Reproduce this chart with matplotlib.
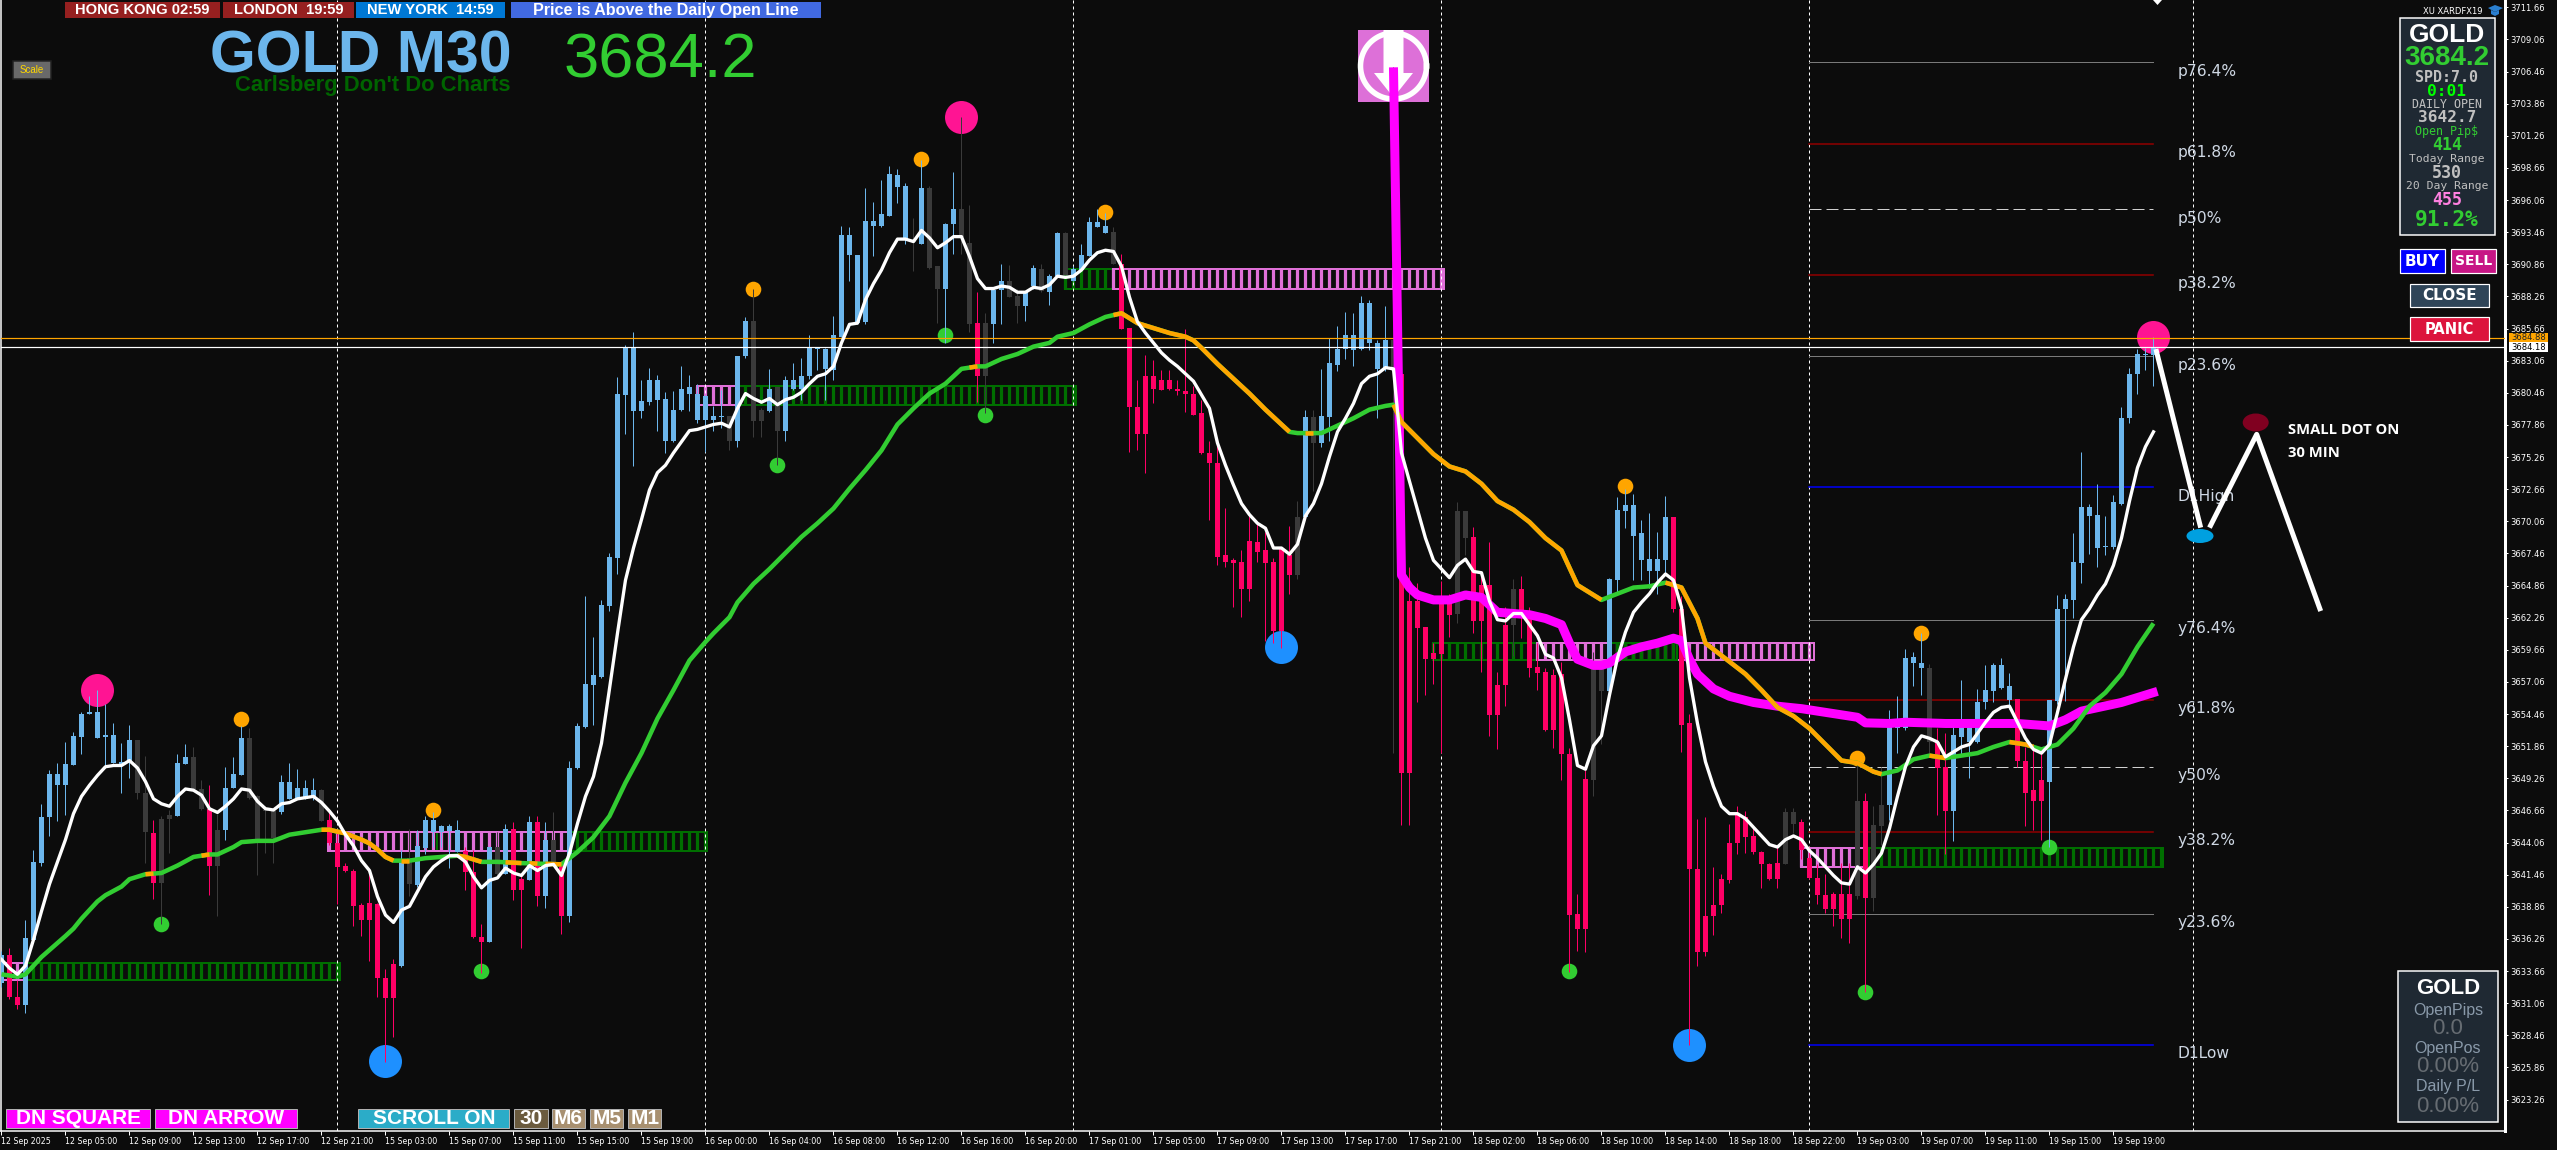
import matplotlib
matplotlib.use('Agg')
import matplotlib.pyplot as plt
from matplotlib.patches import Rectangle, Polygon, Ellipse
import numpy as np

# Candles: b = blue, p = pink, g = grey
bar_kind = ("bppbbbbbbb" "bbbbbbbggp" "ggbbggpgbb" "bggggbbbbb" "gppppppppp"
            "bgbbbbbbpp" "pbgbppbpbg" "pbbbbbbbbb" "bbbbbbbbbb" "bgbbggbgbb"
            "bbbbbbbbbb" "bbbbgbggbb" "ggpgbbggbb" "gbbgbbbbbg" "pppppppppp"
            "pppppppppp" "ppgbgbbbbb" "bbbbgppppp" "ppggpppppg" "pppppppppg"
            "gbbbbbbbbp" "pppppppppp" "pppggppppp" "ppgpggbbbb" "bgppbbbbbb"
            "bbppppbbbb" "bbbbbbbbbb")

bar_top = [
    3635.0,3635.0,3631.6,3636.3,3642.5,3646.1,3649.6,3649.6,3650.4,3652.7,
    3654.5,3654.6,3654.6,3652.8,3652.8,3650.6,3652.4,3652.4,3648.1,3644.8,
    3646.0,3646.3,3650.5,3651.0,3651.0,3648.4,3646.8,3645.1,3648.5,3649.6,
    3652.5,3652.5,3647.8,3646.7,3646.6,3649.0,3649.0,3648.5,3648.5,3648.3,
    3648.3,3645.9,3644.0,3642.2,3641.8,3639.0,3639.2,3639.1,3633.1,3634.2,
    3642.5,3642.8,3643.8,3645.9,3645.9,3645.4,3645.4,3645.1,3643.4,3641.7,
    3636.4,3643.7,3643.7,3645.2,3645.2,3641.1,3645.7,3645.7,3644.3,3644.3,
    3642.3,3650.1,3653.5,3656.9,3657.6,3663.3,3667.2,3680.4,3684.1,3684.1,
    3679.8,3681.5,3681.5,3680.0,3679.1,3680.8,3680.9,3680.4,3680.2,3678.6,
    3678.6,3678.6,3683.4,3686.3,3686.3,3679.1,3680.8,3680.9,3681.5,3681.5,
    3681.8,3684.1,3684.1,3684.0,3685.1,3693.2,3693.2,3691.6,3694.4,3694.4,
    3694.9,3698.2,3698.1,3697.2,3692.9,3697.0,3697.0,3690.7,3694.1,3695.3,
    3695.3,3692.6,3686.1,3686.1,3688.8,3689.5,3689.5,3688.3,3688.6,3690.6,
    3690.5,3689.9,3693.4,3693.4,3690.5,3691.6,3694.3,3694.3,3694.0,3693.5,
    3690.9,3685.7,3679.3,3681.8,3681.8,3681.5,3681.5,3680.8,3680.6,3680.4,
    3678.8,3675.6,3674.8,3667.3,3666.9,3666.8,3668.5,3668.4,3667.7,3666.8,
    3667.8,3667.3,3670.4,3678.5,3678.5,3678.6,3682.9,3684.0,3685.1,3685.1,
    3687.7,3687.7,3684.5,3684.7,3684.7,3682.0,3663.6,3663.6,3661.5,3659.4,
    3663.9,3663.8,3670.9,3670.9,3668.8,3664.9,3664.9,3656.8,3661.7,3664.6,
    3664.6,3662.4,3658.3,3657.9,3657.6,3657.7,3651.2,3638.3,3649.2,3658.7,
    3658.6,3665.4,3671.0,3671.4,3671.4,3669.1,3667.0,3667.0,3670.4,3670.4,
    3663.0,3653.7,3641.9,3638.1,3639.0,3641.1,3644.0,3646.3,3646.1,3644.6,
    3643.3,3642.3,3642.4,3646.5,3646.5,3645.7,3642.8,3641.2,3639.8,3639.9,
    3639.9,3639.9,3647.4,3647.4,3645.5,3647.1,3653.8,3653.8,3659.0,3659.1,
    3658.6,3658.2,3652.2,3650.2,3652.8,3653.8,3653.8,3655.4,3656.4,3658.4,
    3658.4,3656.7,3655.7,3650.7,3648.3,3649.1,3655.6,3663.0,3663.8,3666.8,
    3671.2,3671.2,3670.6,3668.1,3671.6,3678.4,3682.0,3683.6,3683.6,3684.2]

bar_bot = [
    3632.7,3631.6,3630.9,3630.9,3636.2,3642.4,3646.1,3648.7,3648.7,3650.3,
    3652.6,3654.5,3652.5,3652.6,3650.5,3650.3,3650.5,3648.1,3644.9,3640.8,
    3640.8,3646.0,3646.2,3650.4,3648.4,3646.8,3642.2,3642.2,3645.1,3648.5,
    3649.5,3647.7,3644.3,3646.6,3644.4,3646.5,3647.6,3647.6,3647.6,3647.7,
    3645.8,3644.0,3642.1,3641.8,3638.9,3637.8,3637.8,3633.1,3631.5,3631.5,
    3634.1,3640.7,3640.6,3643.6,3644.9,3644.9,3645.0,3643.3,3641.7,3636.4,
    3636.0,3636.0,3641.5,3641.5,3640.2,3640.2,3641.0,3639.7,3639.7,3642.5,
    3638.1,3638.1,3650.1,3653.4,3656.8,3657.5,3663.2,3667.1,3680.3,3679.0,
    3679.0,3679.7,3679.9,3676.6,3676.6,3679.1,3680.4,3678.3,3678.3,3678.3,
    3678.5,3676.6,3676.6,3683.4,3678.2,3678.2,3679.0,3677.4,3677.4,3680.8,
    3680.8,3681.8,3684.0,3682.4,3682.3,3685.0,3691.6,3686.1,3686.2,3694.0,
    3694.0,3694.8,3697.1,3692.9,3692.7,3692.5,3690.6,3688.9,3688.9,3694.1,
    3693.1,3686.0,3681.8,3681.8,3686.0,3688.8,3688.2,3687.5,3687.5,3689.1,
    3688.7,3688.6,3689.9,3690.0,3689.5,3690.4,3691.5,3693.9,3693.4,3690.9,
    3685.6,3679.3,3677.1,3677.1,3680.8,3680.7,3680.8,3680.6,3680.4,3678.7,
    3675.6,3674.8,3667.2,3666.8,3666.7,3664.6,3664.6,3667.6,3666.7,3661.2,
    3661.2,3665.7,3665.7,3670.4,3676.4,3676.4,3678.5,3682.7,3684.0,3683.9,
    3684.0,3684.5,3682.4,3682.4,3682.2,3649.7,3649.7,3661.4,3658.9,3658.9,
    3659.3,3662.5,3662.6,3668.7,3662.0,3662.0,3654.4,3654.4,3656.8,3661.7,
    3662.3,3658.2,3657.8,3653.2,3653.2,3651.2,3638.2,3637.1,3637.1,3649.1,
    3656.3,3656.3,3665.3,3670.9,3668.9,3666.9,3666.0,3666.0,3666.9,3663.0,
    3653.6,3641.9,3635.2,3635.2,3638.1,3639.0,3641.0,3644.0,3644.5,3643.3,
    3642.3,3641.1,3641.1,3642.3,3645.6,3643.5,3641.2,3639.8,3638.7,3638.7,
    3637.9,3637.9,3639.7,3639.6,3639.6,3645.4,3647.1,3653.3,3653.3,3658.6,
    3658.2,3652.2,3650.1,3646.6,3646.6,3652.6,3652.2,3652.2,3655.4,3656.3,
    3656.6,3655.6,3650.7,3648.1,3647.4,3647.4,3649.0,3655.5,3663.0,3663.7,
    3666.7,3670.5,3667.9,3668.0,3668.0,3671.5,3678.4,3682.0,3683.5,3683.5]

bar_high = [
    3635.3,3635.5,3632.9,3637.8,3643.5,3647.2,3649.9,3650.5,3652.2,3653.0,
    3654.6,3655.9,3656.4,3655.3,3653.7,3652.1,3653.6,3652.4,3651.1,3645.9,
    3646.2,3646.7,3651.2,3652.0,3651.8,3649.1,3648.7,3646.4,3650.2,3651.0,
    3653.5,3653.3,3647.9,3647.0,3646.7,3649.5,3650.5,3650.0,3649.1,3649.3,
    3648.4,3646.6,3644.8,3642.4,3641.9,3639.2,3641.6,3639.2,3633.8,3634.6,
    3643.5,3645.2,3645.1,3646.2,3646.5,3645.5,3645.6,3645.9,3643.7,3643.5,
    3637.5,3643.7,3644.9,3645.6,3645.7,3641.6,3646.2,3646.2,3645.7,3646.5,
    3642.6,3650.7,3653.7,3664.0,3660.7,3663.7,3667.5,3681.7,3684.3,3685.4,
    3681.5,3682.5,3681.9,3680.5,3680.6,3682.6,3681.9,3681.2,3680.3,3679.4,
    3680.7,3678.6,3683.4,3686.6,3688.9,3679.2,3682.4,3680.9,3681.8,3682.9,
    3683.3,3685.1,3684.2,3684.1,3686.7,3694.0,3693.9,3691.6,3697.0,3695.9,
    3697.7,3698.8,3698.6,3697.4,3694.6,3699.3,3697.2,3690.7,3694.2,3698.3,
    3702.8,3695.7,3688.6,3686.9,3689.0,3690.9,3690.8,3688.9,3688.6,3690.8,
    3690.9,3690.1,3693.5,3693.5,3690.7,3692.5,3694.7,3695.3,3695.0,3693.9,
    3691.7,3685.7,3681.5,3683.5,3683.1,3682.3,3682.3,3681.5,3685.6,3681.0,
    3679.9,3676.6,3676.4,3671.1,3667.1,3667.7,3670.7,3669.9,3669.2,3667.1,
    3667.9,3669.7,3671.7,3679.1,3679.1,3682.4,3684.9,3685.9,3687.0,3686.9,
    3688.3,3688.0,3684.7,3687.5,3706.8,3682.0,3666.4,3665.1,3661.5,3660.2,
    3665.2,3664.2,3671.6,3670.9,3669.6,3665.9,3668.4,3657.9,3663.1,3665.4,
    3665.6,3663.1,3660.2,3658.2,3658.1,3658.7,3651.7,3639.9,3649.9,3659.5,
    3658.7,3665.5,3672.0,3672.7,3672.3,3670.2,3670.7,3669.2,3672.1,3670.4,
    3664.0,3654.5,3646.0,3646.1,3642.1,3641.5,3645.6,3647.0,3646.6,3645.3,
    3643.4,3642.4,3643.8,3646.9,3646.9,3646.0,3643.7,3642.3,3641.5,3640.1,
    3642.4,3642.4,3650.7,3648.1,3647.0,3650.2,3654.8,3655.9,3659.7,3659.5,
    3661.0,3658.5,3653.3,3652.9,3653.7,3657.2,3654.0,3656.5,3658.4,3658.6,
    3659.0,3657.8,3655.7,3651.8,3652.0,3651.8,3655.6,3664.1,3664.2,3669.1,
    3675.7,3671.5,3673.1,3670.5,3672.2,3679.3,3682.5,3684.0,3684.1,3685.0]

bar_low = [
    3632.4,3631.4,3630.6,3630.3,3636.2,3642.2,3644.6,3645.8,3646.3,3650.3,
    3651.2,3654.5,3652.5,3650.3,3650.5,3648.1,3649.3,3647.6,3642.4,3639.5,
    3637.5,3643.2,3646.2,3650.4,3648.3,3646.7,3639.8,3638.1,3644.3,3648.5,
    3649.5,3647.6,3641.4,3643.2,3642.4,3646.4,3647.6,3647.6,3647.6,3647.5,
    3645.8,3643.9,3639.1,3641.7,3637.3,3636.5,3634.5,3631.6,3626.3,3628.3,
    3634.0,3639.7,3640.5,3643.1,3643.7,3643.7,3642.0,3643.3,3640.2,3636.3,
    3633.5,3636.0,3641.4,3641.5,3639.4,3635.5,3641.0,3638.9,3638.8,3642.4,
    3636.7,3637.6,3650.0,3653.3,3653.6,3657.4,3662.8,3665.8,3677.1,3674.5,
    3678.4,3679.5,3677.4,3675.6,3676.5,3679.0,3679.0,3678.0,3675.7,3677.4,
    3677.6,3675.8,3676.1,3683.3,3676.9,3676.9,3678.9,3674.6,3676.6,3680.7,
    3679.9,3681.6,3682.3,3679.9,3681.5,3685.0,3689.5,3686.0,3686.0,3691.5,
    3693.9,3694.8,3695.8,3692.5,3690.3,3692.5,3690.5,3686.1,3684.5,3691.7,
    3691.7,3685.4,3679.7,3678.8,3684.5,3686.0,3688.2,3686.1,3686.3,3688.9,
    3688.6,3687.6,3689.8,3690.0,3689.5,3690.3,3691.5,3693.9,3693.4,3690.9,
    3685.6,3675.7,3675.8,3674.0,3679.6,3680.7,3680.7,3680.3,3678.9,3678.7,
    3675.5,3670.2,3666.5,3666.4,3663.1,3662.3,3663.6,3666.8,3660.4,3660.2,
    3659.8,3664.2,3665.4,3670.3,3672.5,3676.1,3676.6,3682.2,3683.2,3682.6,
    3683.9,3683.9,3678.4,3682.2,3651.3,3645.5,3645.5,3655.4,3656.0,3656.9,
    3651.3,3660.7,3661.8,3667.3,3661.0,3657.9,3652.7,3651.6,3655.1,3659.2,
    3660.6,3657.5,3656.4,3653.1,3651.7,3649.1,3633.6,3635.3,3635.2,3647.8,
    3652.0,3656.2,3664.2,3669.5,3665.3,3665.3,3664.7,3664.2,3665.8,3662.7,
    3651.4,3627.7,3634.1,3634.9,3636.6,3638.4,3640.8,3643.1,3643.2,3643.1,
    3640.4,3641.0,3640.4,3642.3,3644.8,3642.7,3641.1,3639.1,3638.4,3637.3,
    3636.3,3635.9,3639.5,3632.0,3638.5,3643.9,3645.9,3651.3,3653.2,3656.7,
    3656.0,3651.1,3646.3,3643.1,3644.2,3651.1,3649.3,3652.1,3654.9,3655.4,
    3656.5,3654.9,3650.2,3645.4,3645.1,3644.3,3643.7,3655.3,3655.5,3662.2,
    3665.1,3667.4,3666.4,3667.3,3667.8,3671.4,3678.0,3680.4,3682.3,3681.0]

# Fast moving average, one value per bar
white_ma = [
    3634.6,3633.9,3633.4,3634.1,3636.2,3638.5,3640.7,3642.5,3644.3,3646.4,
    3647.8,3648.7,3649.5,3650.2,3650.3,3650.3,3650.7,3650.1,3649.0,3647.6,
    3647.2,3647.0,3647.8,3648.4,3648.3,3647.9,3646.8,3646.5,3647.0,3647.6,
    3648.4,3648.3,3647.4,3646.8,3646.7,3647.2,3647.3,3647.6,3647.7,3647.8,
    3647.3,3646.6,3645.8,3644.7,3643.8,3642.6,3641.8,3639.7,3638.2,3637.6,
    3638.6,3638.9,3640.1,3641.3,3642.1,3642.6,3643.0,3643.0,3642.5,3641.3,
    3640.4,3641.0,3641.2,3642.0,3641.6,3641.4,3642.2,3641.8,3642.2,3642.3,
    3641.4,3643.2,3645.6,3647.8,3649.4,3652.1,3656.5,3661.0,3665.3,3667.9,
    3670.2,3672.6,3674.0,3674.6,3675.6,3676.5,3677.4,3677.5,3677.7,3677.9,
    3678.0,3677.7,3679.2,3680.4,3680.0,3679.7,3680.0,3679.5,3679.9,3680.1,
    3680.5,3681.2,3681.8,3682.0,3682.6,3684.5,3686.0,3686.1,3688.0,3689.3,
    3690.4,3691.8,3692.9,3692.9,3692.7,3693.6,3693.0,3692.2,3692.6,3693.1,
    3693.1,3691.5,3689.7,3688.9,3688.9,3689.1,3689.0,3688.6,3688.6,3689.0,
    3688.9,3689.2,3689.9,3689.8,3689.9,3690.4,3691.2,3691.8,3692.0,3691.9,
    3690.7,3688.2,3686.2,3685.3,3684.5,3683.7,3683.1,3682.6,3682.0,3681.4,
    3680.3,3679.2,3676.4,3674.6,3673.0,3671.5,3670.6,3669.9,3669.5,3667.9,
    3667.9,3667.4,3668.2,3670.5,3671.5,3673.1,3675.3,3677.3,3678.4,3679.6,
    3681.2,3681.8,3682.0,3682.5,3682.4,3675.6,3673.3,3671.0,3668.7,3666.9,
    3666.2,3665.5,3666.5,3667.0,3666.0,3665.9,3663.6,3662.1,3662.0,3662.6,
    3662.6,3661.7,3660.8,3659.3,3659.0,3657.4,3654.0,3650.3,3650.0,3651.9,
    3652.7,3656.0,3659.0,3661.1,3662.7,3663.5,3664.2,3665.1,3665.8,3665.3,
    3663.1,3657.4,3653.7,3650.6,3648.6,3647.0,3646.4,3646.4,3646.0,3645.3,
    3644.6,3643.9,3643.7,3644.3,3644.6,3644.3,3643.4,3642.8,3642.1,3641.4,
    3640.8,3640.7,3642.1,3641.6,3642.3,3643.2,3645.2,3647.8,3650.2,3651.8,
    3652.7,3652.5,3652.2,3651.0,3651.4,3651.8,3652.0,3652.9,3653.8,3654.6,
    3655.0,3655.1,3653.8,3652.5,3651.6,3651.3,3652.0,3654.6,3657.3,3659.9,
    3662.1,3663.0,3664.1,3665.0,3666.5,3668.7,3671.7,3674.4,3676.1,3677.3]

# Slow moving average, green with orange stretches
slow_bar = [0,2,3,5,8,9,10,12,13,15,16,18,20,22,24,26,27,29,30,32,34,36,38,40,41,43,45,46,47,48,49,
            51,53,55,57,58,60,62,65,70,71,72,74,76,78,80,82,84,86,88,89,91,92,94,96,98,100,102,104,
            106,108,110,112,114,116,118,120,122,123,125,127,129,131,132,134,136,138,140,142,144,146,
            148,149,150,152,154,156,158,160,161,162,165,167,169,171,173,174,175,177,179,181,183,185,
            187,189,191,193,195,197,199,200,202,204,206,208,210,212,213,216,218,220,222,224,226,228,
            230,232,234,235,237,239,241,243,245,247,249,251,253,255,257,259,261,263,265,267,269]
slow_ma = [3633.4,3633.2,3633.4,3634.8,3636.5,3637.1,3637.9,3639.3,3639.8,3640.5,3641.1,3641.5,3641.6,
           3642.2,3642.9,3643.1,3643.1,3643.7,3644.1,3644.2,3644.2,3644.7,3644.9,3645.1,3645.1,3644.8,
           3644.3,3644.0,3643.5,3642.9,3642.6,3642.6,3642.8,3642.9,3643.0,3642.9,3642.5,3642.5,3642.4,
           3642.3,3642.8,3643.3,3644.5,3646.2,3648.9,3651.3,3654.1,3656.4,3658.8,3660.3,3661.0,3662.3,
           3663.5,3665.0,3666.2,3667.5,3668.8,3669.9,3671.1,3672.7,3674.2,3675.8,3677.9,3679.2,3680.4,
           3681.2,3682.4,3682.6,3682.6,3683.2,3683.6,3684.2,3684.5,3685.0,3685.3,3686.0,3686.6,3686.9,
           3686.1,3685.7,3685.3,3685.0,3684.7,3684.1,3682.8,3681.6,3680.4,3679.1,3677.9,3677.3,3677.2,
           3677.2,3677.8,3678.4,3679.1,3679.4,3679.5,3678.1,3676.8,3675.5,3674.5,3674.1,3673.1,3671.7,
           3671.0,3670.0,3668.7,3667.7,3664.9,3664.1,3663.7,3664.2,3664.7,3664.8,3665.1,3664.7,3662.2,
           3660.2,3658.7,3657.7,3656.4,3655.0,3654.3,3653.3,3652.0,3650.7,3650.5,3649.8,3649.6,3649.9,
           3650.8,3651.1,3650.9,3651.1,3651.3,3651.8,3652.2,3652.0,3651.6,3652.0,3653.3,3655.1,3656.2,
           3657.7,3659.9,3661.8]
orange_spans = [(18,19),(25,26),(40,49),(50,51),(57,60),(63,65),(66,67),(68,70),(121,122),(139,161),
                (163,164),(174,200),(208,235),(241,243),(251,254)]

# Thick magenta average from the spike on
mag_bar = [174,175,176,177,179,181,183,185,187,189,191,193,195,196,197,199,200,201,203,205,207,209,210,
           211,212,214,216,219,222,225,228,232,233,236,238,243,247,252,256,258,260,265,269.5]
mag_ma = [3706.8,3665.7,3664.7,3664.1,3663.7,3663.7,3664.1,3663.9,3662.7,3662.6,3662.5,3662.2,3661.7,
          3660.2,3658.9,3658.4,3658.4,3658.6,3659.5,3659.9,3660.2,3660.6,3660.4,3658.9,3657.7,3656.5,
          3655.9,3655.4,3655.1,3654.9,3654.6,3654.2,3653.75,3653.7,3653.8,3653.7,3653.7,3653.7,3653.5,
          3654.0,3654.7,3655.4,3656.3]

# Supply / demand zones: colour, first bar, last bar, low, high
zones = [('pink',-0.2,3,3632.9,3634.3),('green',3,42.3,3632.9,3634.3),
         ('green',54.5,58,3643.35,3644.9),('pink',40.8,71,3643.35,3644.9),('green',71,88.2,3643.35,3644.9),
         ('pink',86.9,92.2,3679.5,3681.05),('green',92.2,134.3,3679.5,3681.05),
         ('green',133,139,3688.9,3690.45),('pink',139,180.3,3688.9,3690.45),
         ('green',179,192,3658.8,3660.2),('pink',192,226.6,3658.8,3660.2),('green',201,209.5,3658.8,3660.2),
         ('pink',225,233.5,3642.1,3643.6),('green',233.5,270.2,3642.1,3643.6)]

# Pivot levels right of the last separator
level_names = ['p76.4%','p61.8%','p50%','p38.2%','p23.6%','D1High','y76.4%','y61.8%','y50%','y38.2%','y23.6%','D1Low']
level_price = [3707.2,3700.6,3695.3,3690.0,3683.4,3672.8,3662.1,3655.6,3650.2,3644.9,3638.3,3627.7]
level_kind = ['grey','red','dash','red','grey','blue','grey','red','dash','red','grey','blue']

# Signal dots
dot_bar = [12,30,20,48,54,60,94,115,120,118,97,123,138,160,203,196,211,240,232,233,256,269]
dot_price = [3656.4,3654.1,3637.5,3626.4,3646.7,3633.7,3688.9,3699.4,3702.8,3685.1,3674.6,3678.7,3695.1,
             3659.9,3672.9,3633.7,3627.7,3661.0,3650.9,3632.0,3643.7,3685.0]
dot_kind = ['P','o','g','B','o','g','o','o','P','g','g','g','o','B','o','g','B','o','o','g','g','P']

separators = [42,88,134,180,226,274]
time_labels = ['12 Sep 2025','12 Sep 05:00','12 Sep 09:00','12 Sep 13:00','12 Sep 17:00','12 Sep 21:00',
               '15 Sep 03:00','15 Sep 07:00','15 Sep 11:00','15 Sep 15:00','15 Sep 19:00','16 Sep 00:00',
               '16 Sep 04:00','16 Sep 08:00','16 Sep 12:00','16 Sep 16:00','16 Sep 20:00','17 Sep 01:00',
               '17 Sep 05:00','17 Sep 09:00','17 Sep 13:00','17 Sep 17:00','17 Sep 21:00','18 Sep 02:00',
               '18 Sep 06:00','18 Sep 10:00','18 Sep 14:00','18 Sep 18:00','18 Sep 22:00','19 Sep 03:00',
               '19 Sep 07:00','19 Sep 11:00','19 Sep 15:00','19 Sep 19:00']

# Hand drawn projection
sketch_bar = [269.3,274.9]
sketch_price = [3684.0,3669.55]
sketch2_bar = [276,281.9,289.9]
sketch2_price = [3669.55,3677.1,3662.8]

BG = '#0C0C0C'
W, H = 2557, 1150
PX = 72 / 100  # points per pixel at dpi 100
colours = {'b': '#6CB6EC', 'p': '#FF0066', 'g': '#3A3A3A'}
zone_col = {'pink': '#E070D8', 'green': '#006F00'}
NARROW = ['Liberation Sans Narrow', 'Liberation Sans']

fig = plt.figure(figsize=(W / 100, H / 100), dpi=100, facecolor=BG)
ax = fig.add_axes([1 / W, (H - 1131) / H, 2504 / W, 1131 / H], facecolor=BG)
ax.set_xlim(-0.06, 312.94)
ax.set_ylim(3620.72, 3712.25)

idx = np.arange(len(bar_top))
for c, x0, x1, lo, hi in zones:
    xs = np.arange(np.ceil(x0), np.floor(x1) + 1)
    ax.vlines(xs, lo, hi, color=zone_col[c], lw=3.2 * PX, zorder=1)
    ax.add_patch(Rectangle((x0, lo), x1 - x0, hi - lo, fill=False, ec=zone_col[c], lw=2 * PX, zorder=1))

for s in separators:
    ax.axvline(s, color='white', lw=1 * PX, ls=(0, (3, 3)), zorder=1.2)

for name, price, kind in zip(level_names, level_price, level_kind):
    if kind == 'dash':
        ax.plot([226, 269], [price, price], color='#D0D0D0', lw=1 * PX, ls=(0, (12, 5)), zorder=1.3)
    else:
        col = {'grey': '#7A7A7A', 'red': '#8B0000', 'blue': '#0000F0'}[kind]
        ax.plot([226, 269], [price, price], color=col, lw=(1.6 if kind != 'grey' else 1) * PX, zorder=1.3)
    ax.annotate(name, xy=(272, price), xytext=(0, -8.7 * PX), textcoords='offset points', va='center',
                ha='left', fontsize=11.2, color='#CFD8E4', family='DejaVu Sans', zorder=1.4)

big = {'P': '#FF1493', 'B': '#1E90FF'}
small = {'o': '#FFA500', 'g': '#32CD32'}
for x, y, k in zip(dot_bar, dot_price, dot_kind):
    if k in big:
        ax.scatter(x, y, s=(33 * PX) ** 2, color=big[k], linewidths=0, zorder=2)
    else:
        ax.scatter(x, y, s=(15.6 * PX) ** 2, color=small[k], linewidths=0, zorder=2)

# Signal icon sits behind the spike
def px(x, y):
    return x / W, 1 - y / H

ax.add_patch(Rectangle(px(1358, 102), 71 / W, 72 / H, color='#DD70D8', transform=fig.transFigure, zorder=2.6, lw=0))
ax.add_patch(Polygon([px(1383.5, 30), px(1403.5, 30), px(1403.5, 73), px(1413, 73), px(1393.5, 97.5),
                      px(1374, 73), px(1383.5, 73)], color='white', transform=fig.transFigure, zorder=2.8, lw=0))
th = np.linspace(0, 2 * np.pi, 90)
ring_x, ring_y = px(1393.5 + 33 * np.cos(th), 66 + 33 * np.sin(th))
ax.plot(ring_x, ring_y, color='white', lw=5.5 * PX, transform=fig.transFigure, zorder=2.7)

# Candles
cols = [colours[k] for k in bar_kind]
ax.vlines(idx, bar_low, bar_high, colors=cols, lw=1 * PX, zorder=3)
ax.bar(idx, np.array(bar_top) - np.array(bar_bot), bottom=bar_bot, width=0.72, color=cols, linewidth=0, zorder=3)

ax.axhline(3684.88, color='#FFA500', lw=1.2 * PX, zorder=3.5)
ax.axhline(3684.18, color='white', lw=1.2 * PX, zorder=3.5)

ax.plot(mag_bar, mag_ma, color='#FF00FF', lw=9 * PX, solid_capstyle='butt', solid_joinstyle='round', zorder=4)

ax.plot(slow_bar, slow_ma, color='#32CD32', lw=4.5 * PX, solid_capstyle='butt', zorder=4.5)
for a, b in orange_spans:
    keep = [x for x in slow_bar if a < x < b]
    xs = [a] + keep + [b]
    ax.plot(xs, np.interp(xs, slow_bar, slow_ma), color='#FFA500', lw=4.5 * PX, solid_capstyle='butt', zorder=4.6)

ax.plot(idx, white_ma, color='white', lw=3.3 * PX, zorder=5)

# Projection sketch
ax.plot(sketch_bar, sketch_price, color='white', lw=5 * PX, solid_capstyle='butt', zorder=7)
ax.plot(sketch2_bar, sketch2_price, color='white', lw=5 * PX, solid_capstyle='butt', zorder=7)

# Axes styling
ax.yaxis.tick_right()
ax.set_yticks(3623.26 + 2.6 * np.arange(35))
ax.set_yticklabels([f'{3623.26 + 2.6 * k:.2f}' for k in range(35)], fontsize=6, color='white')
ax.set_xticks(np.arange(len(time_labels)) * 8)
ax.set_xticklabels(time_labels, fontsize=5.7, color='white', ha='left')
ax.tick_params(axis='y', length=3 * PX, width=1 * PX, color='white', pad=1.5)
ax.tick_params(axis='x', length=4 * PX, width=1 * PX, color='white', pad=1.5)
ax.spines['top'].set_visible(False)
ax.spines['right'].set_color('white')
ax.spines['right'].set_linewidth(3 * PX)
ax.spines['left'].set_color('white')
ax.spines['left'].set_linewidth(1.5 * PX)
ax.spines['bottom'].set_color('white')
ax.spines['bottom'].set_linewidth(1.5 * PX)

# Everything fixed to the screen goes on a pixel overlay
ov = fig.add_axes([0, 0, 1, 1], zorder=10)
ov.set_xlim(0, W)
ov.set_ylim(H, 0)
ov.axis('off')
ov.patch.set_alpha(0)

def box(x0, y0, x1, y1, fc, ec='none', lw=1.5):
    ov.add_patch(Rectangle((x0, y0), x1 - x0, y1 - y0, facecolor=fc, edgecolor=ec, lw=lw * PX))

def label(x, y, s, size, color='white', weight='normal', family='Liberation Sans', ha='center'):
    ov.text(x, y, s, fontsize=size, color=color, fontweight=weight, family=family, ha=ha, va='center')

# Session strip
for x0, x1, fc, s in [(65, 220, '#962020', 'HONG KONG 02:59'), (223, 354, '#962020', 'LONDON  19:59'),
                      (356, 505, '#0078D4', 'NEW YORK  14:59'), (511, 821, '#4169E1', 'Price is Above the Daily Open Line')]:
    box(x0, 2, x1, 18, fc)
    label((x0 + x1) / 2, 10.5, s, 11.6 if fc == '#4169E1' else 10.6, weight='bold')

label(210, 57, 'GOLD M30', 42.5, '#6CB6EC', 'bold', ha='left')
label(564, 61, '3684.2', 45.5, '#32CD32', ha='left')
label(511, 85, "Carlsberg Don't Do Charts", 15.8, '#006400', 'bold', ha='right')
box(13, 61, 51, 79, '#696969', '#222222')
label(32, 70, 'Scale', 7, '#FFD700')

# Bottom buttons
for x0, x1, fc, s, size in [(6.5, 150, '#FF00FF', 'DN SQUARE', 15), (155, 297.5, '#FF00FF', 'DN ARROW', 15),
                            (358.5, 509.5, '#2BACC8', 'SCROLL ON', 15), (514, 548, '#6B5B3E', '30', 15),
                            (552, 585, '#A89070', 'M6', 15), (590, 623.5, '#A89070', 'M5', 15), (628, 661.5, '#A89070', 'M1', 15)]:
    box(x0, 1109, x1, 1128, fc, '#B0B0B0', 1)
    label((x0 + x1) / 2, 1119, s, size, weight='bold')

# Info panel
box(2400, 18, 2495, 235, '#1F2933', 'white', 1.5)
info = [(35, 'GOLD', 19, 'white', 'bold', NARROW), (58, '3684.2', 20, '#32CD32', 'bold', NARROW),
        (77, 'SPD:7.0', 10.8, '#C0C0C0', 'bold', 'DejaVu Sans Mono'), (92, '0:01', 11.7, '#00FF00', 'bold', 'DejaVu Sans Mono'),
        (105, 'DAILY OPEN', 8.4, '#C0C0C0', 'normal', 'DejaVu Sans Mono'), (117, '3642.7', 11.6, '#C0C0C0', 'bold', 'DejaVu Sans Mono'),
        (132, 'Open Pip$', 8.4, '#32CD32', 'normal', 'DejaVu Sans Mono'), (145, '414', 12, '#32CD32', 'bold', 'DejaVu Sans Mono'),
        (159, 'Today Range', 8.2, '#C0C0C0', 'normal', 'DejaVu Sans Mono'), (173, '530', 12, '#C0C0C0', 'bold', 'DejaVu Sans Mono'),
        (186, '20 Day Range', 8.2, '#C0C0C0', 'normal', 'DejaVu Sans Mono'), (200, '455', 12, '#FF80E0', 'bold', 'DejaVu Sans Mono'),
        (220, '91.2%', 15.3, '#32CD32', 'bold', 'DejaVu Sans Mono')]
for y, s, size, col, wt, fam in info:
    label(2447, y, s, size, col, wt, fam)

for x0, x1, y0, y1, fc, s, size in [(2400, 2445, 249, 273, '#0000FF', 'BUY', 11), (2451, 2496, 249, 273, '#C71585', 'SELL', 10),
                                    (2410, 2489, 284, 307, '#2F4558', 'CLOSE', 11), (2410, 2489, 317, 341, '#DC143C', 'PANIC', 10.5)]:
    box(x0, y0, x1, y1, fc, 'white', 1.2)
    label((x0 + x1) / 2, (y0 + y1) / 2, s, size, 'white', 'bold', 'DejaVu Sans')

label(2453, 11, 'XU XARDFX19', 6, 'white', family='DejaVu Sans')
ov.add_patch(Polygon([(2488, 8), (2495, 5), (2503, 8), (2495, 12)], color='#2A7FD0', lw=0))
ov.add_patch(Polygon([(2491, 10), (2491, 14), (2495, 16), (2499, 14), (2499, 10), (2495, 12)], color='#2A7FD0', lw=0))

# Lower right panel
box(2398, 971, 2498, 1122, '#1F2933', 'white', 1.5)
label(2448, 989, 'GOLD', 16, 'white', 'bold', NARROW)
for y, s, size, col in [(1010, 'OpenPips', 11.5, '#8A9AAA'), (1029, '0.0', 16, '#666C72'), (1049, 'OpenPos', 11.5, '#8A9AAA'),
                        (1067, '0.00%', 16, '#666C72'), (1087, 'Daily P/L', 11.5, '#8A9AAA'), (1107, '0.00%', 16, '#666C72')]:
    label(2448, y, s, size, col)

# Bid / ask tags
box(2509, 333, 2548, 342, '#FFA500')
label(2528.5, 337.5, '3684.88', 6, '#222222', family='DejaVu Sans')
box(2509, 342, 2548, 352, 'white')
label(2528.5, 347, '3684.18', 6, 'black', family='DejaVu Sans')

# Small tip of an off-screen arrow at the top edge
ov.add_patch(Polygon([(2153, 0), (2162, 0), (2157.5, 5)], color='white', lw=0))

# Sketch markers and note
ov.add_patch(Ellipse((2200, 536), 27, 14, color='#00A0E0', lw=0))
ov.add_patch(Ellipse((2255.7, 422.5), 26, 18, color='#800020', lw=0))
label(2288, 430, 'SMALL DOT ON', 10.6, 'white', 'bold', 'Open Sans', ha='left')
label(2288, 453, '30 MIN', 10.6, 'white', 'bold', 'Open Sans', ha='left')

fig.savefig('out.png', dpi=100, facecolor=BG)
